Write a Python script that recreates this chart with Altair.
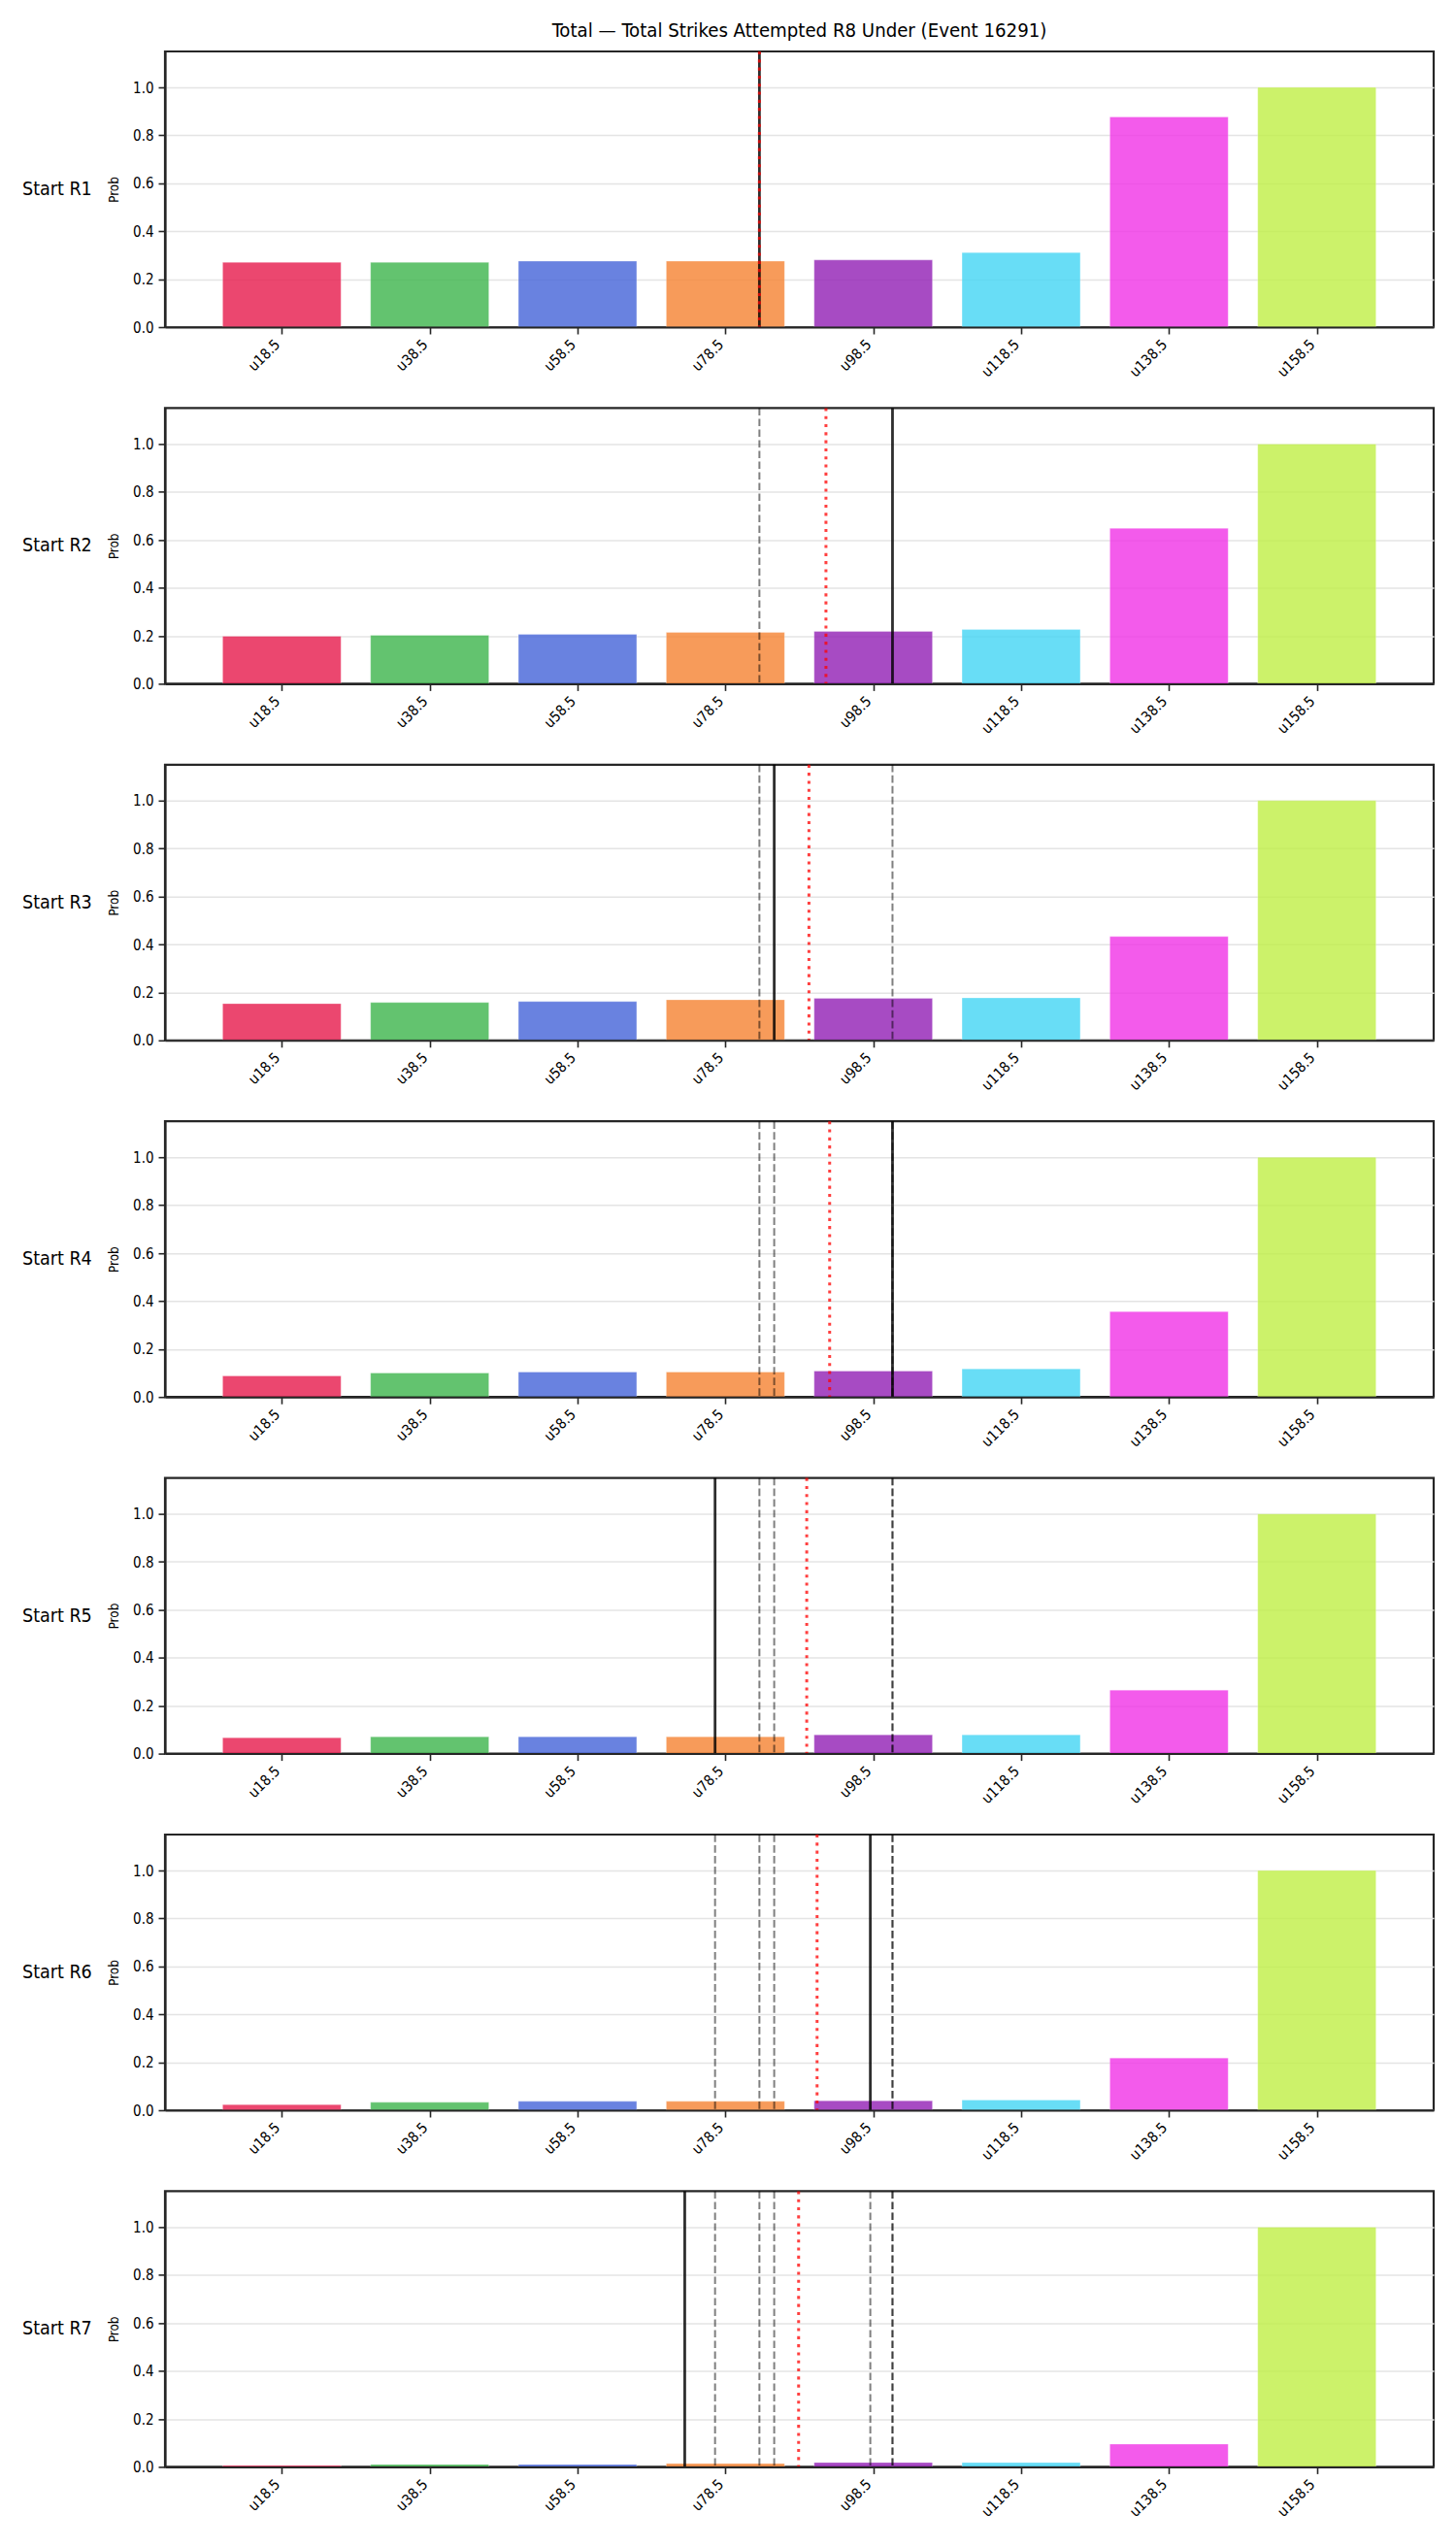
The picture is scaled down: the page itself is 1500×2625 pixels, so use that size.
import altair as alt
import pandas as pd

TITLE = "Total — Total Strikes Attempted R8 Under (Event 16291)"
FONT = "DejaVu Sans Condensed, DejaVu Sans, sans-serif"
SPINE = "#262626"

# strike thresholds (bar centres) and their labels / colours
thresholds = [18.5, 38.5, 58.5, 78.5, 98.5, 118.5, 138.5, 158.5]
categories = ["u18.5", "u38.5", "u58.5", "u78.5", "u98.5", "u118.5", "u138.5", "u158.5"]
bar_colors = ["#e6194b", "#3cb44b", "#4363d8", "#f58231",
              "#911eb4", "#42d4f4", "#f032e6", "#bfef45"]

round_labels = ["Start R1", "Start R2", "Start R3", "Start R4",
                "Start R5", "Start R6", "Start R7"]

# probability of the under at each threshold, per starting round
prob_r1 = [0.270, 0.270, 0.275, 0.275, 0.280, 0.311, 0.877, 1.0]
prob_r2 = [0.198, 0.202, 0.206, 0.214, 0.218, 0.226, 0.648, 1.0]
prob_r3 = [0.153, 0.158, 0.162, 0.169, 0.175, 0.177, 0.433, 1.0]
prob_r4 = [0.088, 0.100, 0.104, 0.104, 0.108, 0.117, 0.356, 1.0]
prob_r5 = [0.066, 0.070, 0.070, 0.070, 0.078, 0.078, 0.265, 1.0]
prob_r6 = [0.023, 0.033, 0.037, 0.037, 0.039, 0.043, 0.218, 1.0]
prob_r7 = [0.006, 0.010, 0.010, 0.014, 0.018, 0.018, 0.095, 1.0]
probs = [prob_r1, prob_r2, prob_r3, prob_r4, prob_r5, prob_r6, prob_r7]

# projected total for each round (solid line) and running mean (red dotted)
projection = [83.1, 101.1, 85.1, 101.1, 77.1, 98.1, 73.0]
running_mean = [83.1, 92.1, 89.8, 92.6, 89.5, 90.9, 88.4]

X_DOMAIN = [2.7, 174.3]
BAR_HALF = 8
W, H = 1307, 284

x_scale = alt.Scale(domain=X_DOMAIN, nice=False, zero=False)
y_scale = alt.Scale(domain=[0, 1.15], nice=False, zero=True)

x_axis = alt.Axis(
    values=thresholds, labelExpr="'u' + datum.value", labelAngle=-45,
    labelAlign="right", labelBaseline="top", labelOffset=-10,
    grid=False, domain=True, domainColor=SPINE, domainWidth=2.0, zindex=1,
    title=None, tickSize=7, tickWidth=1.6, tickColor=SPINE,
    labelFontSize=15, labelPadding=3, labelColor="#000",
)
y_axis = alt.Axis(
    values=[0, 0.2, 0.4, 0.6, 0.8, 1.0], format=".1f", title="Prob",
    grid=True, gridColor="#e4e4e4", gridWidth=1.5,
    domain=True, domainColor=SPINE, domainWidth=2.2,
    tickSize=7, tickWidth=1.6, tickColor=SPINE, labelFontSize=15,
    labelPadding=5, labelColor="#000", titleFontSize=13.5,
    titleFontWeight="normal", titlePadding=12, titleColor="#000",
)


def panel(i):
    bars_df = pd.DataFrame({"centre": thresholds, "cat": categories, "prob": probs[i]})
    bars = (
        alt.Chart(bars_df)
        .transform_calculate(left=f"datum.centre - {BAR_HALF}",
                             right=f"datum.centre + {BAR_HALF}", base="0")
        .mark_rect(fillOpacity=0.8, stroke="white", strokeOpacity=0.45, strokeWidth=0.6)
        .encode(
            x=alt.X("left:Q", scale=x_scale, axis=x_axis),
            x2="right:Q",
            y=alt.Y("prob:Q", scale=y_scale, axis=y_axis),
            y2="base:Q",
            color=alt.Color("cat:N", scale=alt.Scale(domain=categories, range=bar_colors),
                            legend=None),
        )
    )
    layers = [bars]

    # earlier rounds' projections
    if i > 0:
        prev = pd.DataFrame({"pos": projection[:i]})
        layers.append(
            alt.Chart(prev)
            .mark_rule(color="black", opacity=0.5, strokeWidth=2, strokeDash=[7.7, 3.3])
            .encode(x=alt.X("pos:Q", scale=x_scale, title=None))
        )

    cur = pd.DataFrame({"pos": [projection[i]]})
    layers.append(
        alt.Chart(cur)
        .mark_rule(color="black", opacity=0.82, strokeWidth=2.8)
        .encode(x=alt.X("pos:Q", scale=x_scale, title=None))
    )

    mean = pd.DataFrame({"pos": [running_mean[i]]})
    layers.append(
        alt.Chart(mean)
        .mark_rule(color="red", opacity=0.75, strokeWidth=3, strokeDash=[3.1, 5.2])
        .encode(x=alt.X("pos:Q", scale=x_scale, title=None))
    )

    lab = pd.DataFrame({"label": [round_labels[i]]})
    layers.append(
        alt.Chart(lab)
        .mark_text(align="left", baseline="middle", fontSize=19.5, font=FONT, color="#000")
        .encode(text="label:N", x=alt.value(-147), y=alt.value(H / 2))
    )

    return alt.layer(*layers).properties(width=W, height=H)


chart = (
    alt.vconcat(
        *[panel(i) for i in range(len(probs))],
        spacing=83.4,
        bounds="flush",
        title=alt.Title(TITLE, fontSize=20.2, fontWeight="normal", font=FONT,
                        anchor="middle", frame="group", offset=8, color="#000"),
    )
    .configure_view(stroke=SPINE, strokeWidth=2.2)
    .configure_axis(labelFont=FONT, titleFont=FONT)
    .properties(padding={"left": 21, "top": 22, "right": 10, "bottom": 10},
                background="white")
)

chart.save("out.html", embed_options={"renderer": "svg", "actions": False})
